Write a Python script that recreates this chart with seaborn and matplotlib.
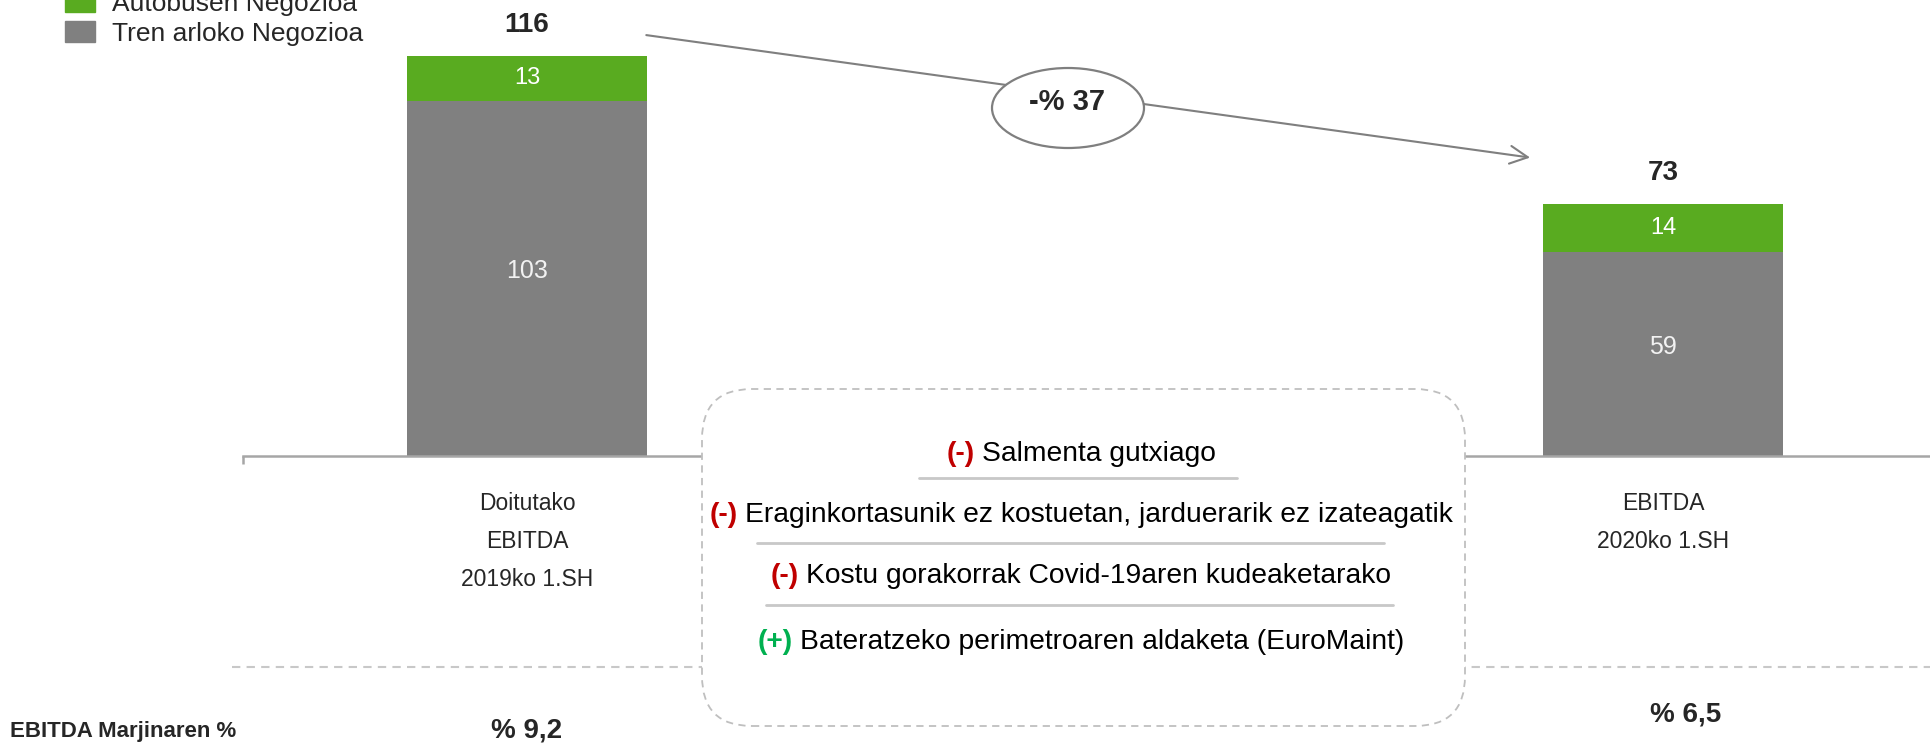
import pandas as pd
import matplotlib
matplotlib.use("Agg")
import matplotlib.pyplot as plt
import seaborn as sns
from matplotlib.patches import Patch, Ellipse, FancyBboxPatch
from matplotlib.lines import Line2D
from matplotlib.transforms import IdentityTransform, blended_transform_factory

# data
categories = ["Doitutako\nEBITDA\n2019ko 1.SH", "EBITDA\n2020ko 1.SH"]
tren = [103, 59]
autobus = [13, 14]
margins = ["% 9,2", "% 6,5"]
change_label = "-% 37"
series_names = ["Autobusen Negozioa", "Tren arloko Negozioa"]
margin_title = "EBITDA Marjinaren %"
driver_signs = ["(-)", "(-)", "(-)", "(+)"]
driver_texts = ["Salmenta gutxiago",
                "Eraginkortasunik ez kostuetan, jarduerarik ez izateagatik",
                "Kostu gorakorrak Covid-19aren kudeaketarako",
                "Bateratzeko perimetroaren aldaketa (EuroMaint)"]

GREEN = "#59ab20"
GRAY = "#808080"
FONT = ["Liberation Sans", "DejaVu Sans"]

sns.set_theme(style="white")
plt.rcParams["font.family"] = FONT

W, H = 1930, 743
fig = plt.figure(figsize=(W / 100, H / 100), dpi=100)
ident = IdentityTransform()

def px(x, y):
    # top-left pixel position -> display coords
    return x, H - y

# axes laid out so the baseline sits at y=456px, bars centred at 527 / 1663
ax = fig.add_axes([243 / W, (H - 456) / H, (W - 243) / W, 456 / H])
df = pd.DataFrame({"cat": categories, "total": [a + b for a, b in zip(tren, autobus)], "tren": tren})
sns.barplot(data=df, x="cat", y="total", color=GREEN, width=0.211, saturation=1,
            errorbar=None, linewidth=0, ax=ax)
sns.barplot(data=df, x="cat", y="tren", color=GRAY, width=0.211, saturation=1,
            errorbar=None, linewidth=0, ax=ax)
ax.set_xlim(-0.25, 1.235)
ax.set_ylim(0, 456 / 3.45)
ax.set_xlabel("")
ax.set_ylabel("")
ax.set_yticks([])
sns.despine(ax=ax, left=True)
ax.spines["bottom"].set_color("#a6a6a6")
ax.spines["bottom"].set_linewidth(1.8)
ax.set_xticks([0, 1])
ax.set_xticklabels(categories, fontsize=16.5, linespacing=1.82)
ax.tick_params(axis="x", which="major", length=0, pad=26)
ax.set_xticks([-0.2499], minor=True)
ax.tick_params(axis="x", which="minor", bottom=True, length=6, width=1.8, color="#a6a6a6")

for i in range(len(categories)):
    tot = tren[i] + autobus[i]
    ax.annotate(str(tren[i]), (i, tren[i] / 2), xytext=(0, 7), textcoords="offset pixels",
                ha="center", va="center", color="#f2f2f2", fontsize=18)
    ax.text(i, tren[i] + autobus[i] / 2, str(autobus[i]), ha="center", va="center",
            color="white", fontsize=17)
    ax.annotate(str(tot), (i, tot), xytext=(0, 31), textcoords="offset pixels",
                ha="center", va="center", fontsize=20, fontweight="bold")

# arrow from first total to second
t0 = tren[0] + autobus[0]
t1 = tren[1] + autobus[1]
ax.annotate("", xy=(0.883, t1 + 13.5), xytext=(0.105, t0 + 6),
            arrowprops=dict(arrowstyle="->", color="#7f7f7f", lw=1.5,
                            mutation_scale=32, shrinkA=0, shrinkB=0))

ell = Ellipse(px(1068, 108), 152, 80, transform=ident, fc="white", ec="#7f7f7f", lw=1.6)
fig.add_artist(ell)
fig.text(*px(1067, 102), change_label, transform=ident, ha="center", va="center",
         fontsize=21, fontweight="bold", zorder=5)

# legend (top row partly off the top edge, as in the reference)
handles = [Patch(color=GREEN, label=series_names[0]), Patch(color=GRAY, label=series_names[1])]
fig.legend(handles=handles, loc="upper left", bbox_to_anchor=(65 / W, 1 + 9 / H),
           frameon=False, fontsize=19, handlelength=1.14, handleheight=0.87,
           handletextpad=0.64, labelspacing=0.2, borderpad=0, borderaxespad=0)

# dashed separator of the margin row
fig.add_artist(Line2D([232, W], [H - 667, H - 667], transform=ident, color="#c8c8c8",
                      lw=1.5, ls=(0, (4, 3))))

# rounded dashed box with the drivers
box = FancyBboxPatch(px(702, 726), 763, 337, boxstyle="round,pad=0,rounding_size=50",
                     transform=ident, fc="white", ec="#bfbfbf", lw=1.3, ls=(0, (4, 3)), zorder=2)
fig.add_artist(box)

renderer = fig.canvas.get_renderer()
line_y = [454, 515, 576, 642]
sep_y = [478, 543, 605]
sep_x = [(919, 1237), (757, 1384), (766, 1393)]
for sign, body, y in zip(driver_signs, driver_texts, line_y):
    col = "#c00000" if sign == "(-)" else "#00b050"
    a = fig.text(0, 0, sign, transform=ident, fontsize=20.3, fontweight="bold", color=col,
                 va="center", zorder=5)
    b = fig.text(0, 0, body, transform=ident, fontsize=20.3, color="black", va="center", zorder=5)
    w1 = a.get_window_extent(renderer).width
    w2 = b.get_window_extent(renderer).width
    gap = 7
    x0 = 1081 - (w1 + gap + w2) / 2
    a.set_position(px(x0, y))
    b.set_position(px(x0 + w1 + gap, y))
for (xa, xb), y in zip(sep_x, sep_y):
    fig.add_artist(Line2D([xa, xb], [H - y, H - y], transform=ident, color="#c8c8c8",
                          lw=2, zorder=4))

# margin row
fig.text(*px(10, 731), margin_title, transform=ident, ha="left", va="center",
         fontsize=16, fontweight="bold")
blend = blended_transform_factory(ax.transData, ident)
margin_y = [731, 715]
margin_dx = [0, 23]
for i, m in enumerate(margins):
    ax.annotate(m, (i, H - margin_y[i]), xycoords=blend, xytext=(margin_dx[i], 0),
                textcoords="offset pixels", ha="center", va="center",
                fontsize=20, fontweight="bold", annotation_clip=False)

fig.savefig("out.png", dpi=100)
